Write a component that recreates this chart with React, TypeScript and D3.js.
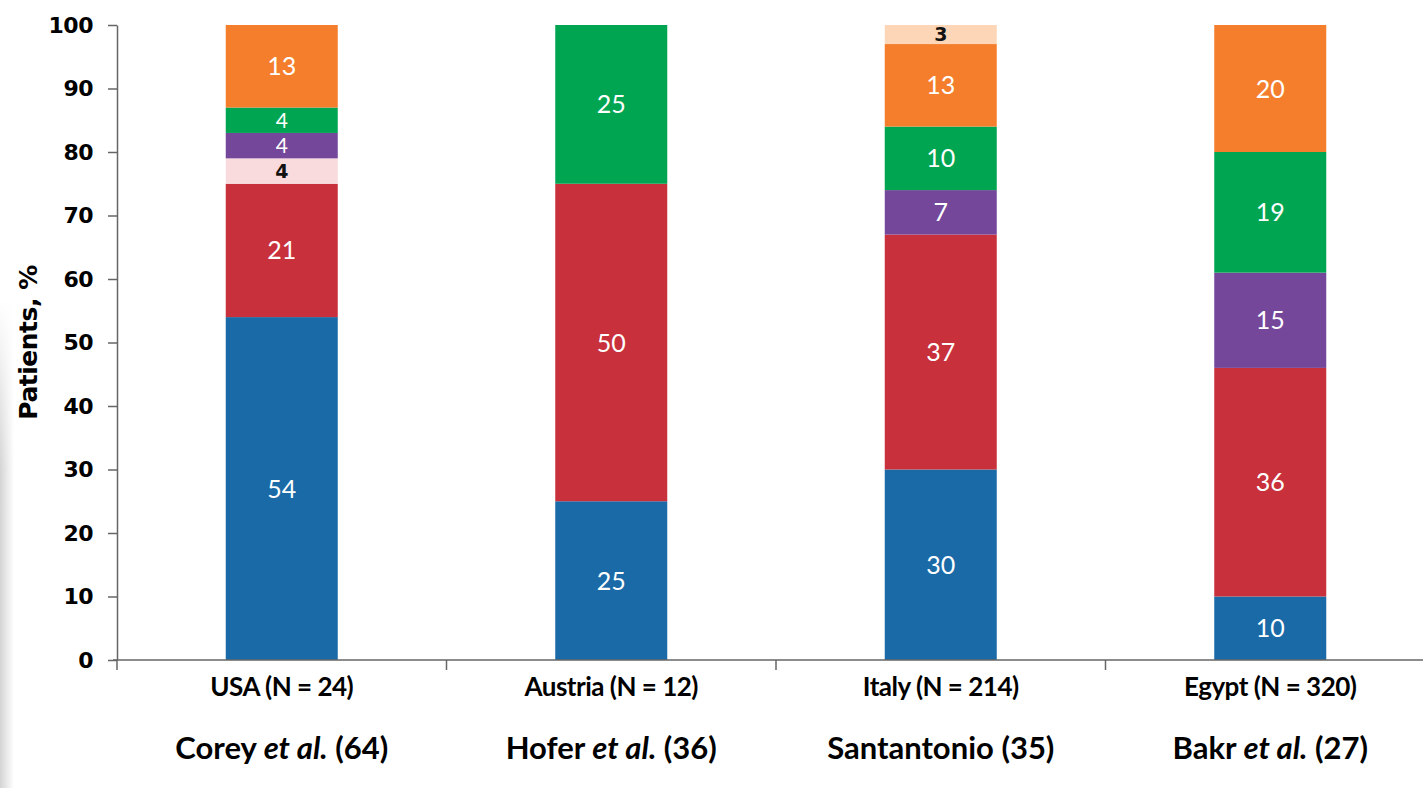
import React, { useRef, useEffect } from "react";
import * as d3 from "d3";

// categories (x axis, two lines each)
const countries = ["USA (N = 24)", "Austria (N = 12)", "Italy (N = 214)", "Egypt (N = 320)"];
const studyAuthors = ["Corey", "Hofer", "Santantonio", "Bakr"];
const studyEtAl = [true, true, false, true];
const studyRefs = ["(64)", "(36)", "(35)", "(27)"];

// stacked series, bottom to top
const seriesKeys = ["g1", "g2", "g3", "g4", "g5", "g6", "g7"];
const g1 = [54, 25, 30, 10];
const g2 = [21, 50, 37, 36];
const g3 = [4, 0, 0, 0];
const g4 = [4, 0, 7, 15];
const g5 = [4, 25, 10, 19];
const g6 = [13, 0, 13, 20];
const g7 = [0, 0, 3, 0];

const yTicks = [0, 10, 20, 30, 40, 50, 60, 70, 80, 90, 100];

const colors = ["#1a6aa8", "#c8303c", "#f9dadd", "#74479a", "#00a551", "#f47e2b", "#fcd6b6"];
const darkLabel = [false, false, true, false, false, false, true];

const App = () => {
  const ref = useRef<SVGSVGElement>(null);

  useEffect(() => {
    const width = 1423;
    const height = 788;
    const svg = d3.select(ref.current).attr("width", width).attr("height", height);
    svg.selectAll("*").remove();

    const left = 117;
    const top = 25;
    const bottom = 660;

    const table = countries.map((c, i) => ({
      country: c,
      g1: g1[i], g2: g2[i], g3: g3[i], g4: g4[i], g5: g5[i], g6: g6[i], g7: g7[i],
    }));

    const x = d3.scaleBand().domain(countries).range([left, left + 4 * 329.5]).padding(0);
    const y = d3.scaleLinear().domain([0, 100]).range([bottom, top]);
    const barW = 112;

    // soft grey strip on the left edge
    const defs = svg.append("defs");
    const grad = defs.append("linearGradient").attr("id", "edge").attr("x1", 0).attr("x2", 1);
    grad.append("stop").attr("offset", 0).attr("stop-color", "#d4d4d4");
    grad.append("stop").attr("offset", 1).attr("stop-color", "#ffffff");
    const fade = defs.append("linearGradient").attr("id", "edgefade").attr("x1", 0).attr("x2", 0).attr("y1", 0).attr("y2", 1);
    fade.append("stop").attr("offset", 0).attr("stop-color", "#fff").attr("stop-opacity", 1);
    fade.append("stop").attr("offset", 0.35).attr("stop-color", "#fff").attr("stop-opacity", 0);
    svg.append("rect").attr("x", 0).attr("y", 300).attr("width", 14).attr("height", 488).attr("fill", "url(#edge)");
    svg.append("rect").attr("x", 0).attr("y", 300).attr("width", 14).attr("height", 488).attr("fill", "url(#edgefade)");

    const stack = d3.stack<any>().keys(seriesKeys);
    const layers = stack(table);

    layers.forEach((layer, li) => {
      const g = svg.append("g");
      layer.forEach((d) => {
        const v = d[1] - d[0];
        if (v <= 0) return;
        const cx = (x(d.data.country) as number) + x.step() / 2;
        g.append("rect")
          .attr("x", cx - barW / 2)
          .attr("y", y(d[1]))
          .attr("width", barW)
          .attr("height", y(d[0]) - y(d[1]))
          .attr("fill", colors[li]);
        const dark = darkLabel[li];
        g.append("text")
          .attr("x", cx)
          .attr("y", (y(d[0]) + y(d[1])) / 2)
          .attr("dy", "0.36em")
          .attr("text-anchor", "middle")
          .style("font-family", dark ? "DejaVu Sans" : "Lato")
          .style("font-weight", dark ? "bold" : "normal")
          .style("font-size", dark ? "19px" : v <= 4 ? "21px" : "25px")
          .attr("fill", dark ? "#111" : "#fff")
          .text(v);
      });
    });

    // y axis
    const yAxis = svg.append("g").attr("transform", `translate(${left},0)`)
      .call(d3.axisLeft(y).tickValues(yTicks).tickSize(9).tickSizeOuter(0).tickPadding(15));
    yAxis.select(".domain").attr("stroke", "#666").attr("stroke-width", 1.5);
    yAxis.selectAll(".tick line").attr("stroke", "#666").attr("stroke-width", 1.5);
    yAxis.selectAll(".tick text")
      .style("font-family", "DejaVu Sans")
      .style("font-weight", "bold")
      .style("font-size", "22px")
      .style("letter-spacing", "-0.5px")
      .attr("fill", "#000");

    // x axis: line with ticks at band boundaries
    svg.append("line")
      .attr("x1", left - 4).attr("x2", width)
      .attr("y1", bottom).attr("y2", bottom)
      .attr("stroke", "#666").attr("stroke-width", 1.5);
    countries.forEach((c) => {
      const bx = x(c) as number;
      svg.append("line")
        .attr("x1", bx).attr("x2", bx)
        .attr("y1", bottom).attr("y2", bottom + 10)
        .attr("stroke", "#666").attr("stroke-width", 1.5);
    });

    // category labels
    countries.forEach((c, i) => {
      const cx = (x(c) as number) + x.step() / 2;
      svg.append("text")
        .attr("x", cx).attr("y", 696)
        .attr("text-anchor", "middle")
        .style("font-family", "Lato")
        .style("font-weight", "bold")
        .style("font-size", "26px")
        .style("letter-spacing", "-0.5px")
        .attr("fill", "#000")
        .text(c);
      const t = svg.append("text")
        .attr("x", cx).attr("y", 759)
        .attr("text-anchor", "middle")
        .style("font-family", "Lato")
        .style("font-weight", "bold")
        .style("font-size", "31px")
        .attr("fill", "#000");
      t.append("tspan").text(studyAuthors[i] + " ");
      if (studyEtAl[i]) {
        t.append("tspan").style("font-style", "italic").text("et al.");
        t.append("tspan").text(" " + studyRefs[i]);
      } else {
        t.append("tspan").text(studyRefs[i]);
      }
    });

    // y axis title
    svg.append("text")
      .attr("transform", `translate(37,${(top + bottom) / 2}) rotate(-90)`)
      .attr("text-anchor", "middle")
      .style("font-family", "DejaVu Sans")
      .style("font-weight", "bold")
      .style("font-size", "25px")
      .style("letter-spacing", "-0.5px")
      .attr("fill", "#000")
      .text("Patients, %");
  }, []);

  return (
    <div style={{ position: "absolute", left: 0, top: 0, background: "#fff" }}>
      <svg ref={ref} style={{ display: "block" }}></svg>
    </div>
  );
};

export default App;
